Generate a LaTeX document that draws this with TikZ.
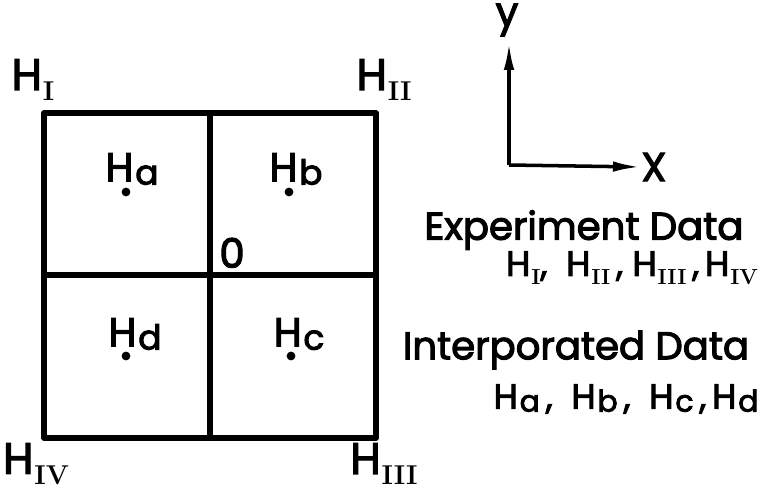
\documentclass[tikz,border=0pt]{standalone}
\usepackage{fontspec}
\usepackage{graphicx}
\newfontfamily\letterfont{Poppins}[FakeBold=2.8]
\usetikzlibrary{arrows.meta}
% H with a roman-numeral index and with a letter index
\newcommand{\Hroman}[1]{H\kern0.5pt\raisebox{-0.45ex}{\scalebox{0.62}{\rmfamily\bfseries #1}}}
\newcommand{\Hletter}[1]{H\kern1pt\raisebox{-0.15ex}{\scalebox{0.85}{#1}}}
\tikzset{
  cellline/.style={line width=3pt, line cap=round, line join=round},
  axisarr/.style={line width=2pt, -{Latex[length=5.6mm,width=2.1mm]}},
  corner/.style={font=\letterfont\fontsize{25}{27}\selectfont, inner sep=0pt},
  cell/.style={font=\letterfont\fontsize{23}{25}\selectfont, inner sep=0pt},
  legend/.style={font=\letterfont\fontsize{22}{24}\selectfont, inner sep=0pt},
  vals/.style={font=\letterfont\fontsize{20}{22}\selectfont, inner sep=0pt},
  gridpt/.style={circle, fill=black, inner sep=0pt, minimum size=5pt},
}
\begin{document}
\begin{tikzpicture}[x=0.02cm, y=-0.02cm]
  \useasboundingbox[fill=white] (0,0) rectangle (767,489);
  % ---------------- the four cells ----------------
  \coordinate (nw) at (44,113);
  \coordinate (se) at (376,438);
  \coordinate (ctr) at (210,275);
  \draw[cellline] (nw) rectangle (se);
  \draw[cellline] (ctr |- nw) -- (ctr |- se);
  \draw[cellline] (ctr -| nw) -- (ctr -| se);
  \node[cell, anchor=south west] (zero) at (219,268) {0};
  % corner values
  \node[corner] (h1) at (33,80) {\Hroman{I}};
  \node[corner] (h2) at (384,80) {\Hroman{II}};
  \node[corner] (h3) at (384,464) {\Hroman{III}};
  \node[corner] (h4) at (36,464) {\Hroman{IV}};
  % interpolated points
  \node[gridpt] (pa) at (126,192) {};
  \node[gridpt] (pb) at (289,192) {};
  \node[gridpt] (pc) at (291,356) {};
  \node[gridpt] (pd) at (126,356) {};
  \node[cell] (ha) at (132,169) {\Hletter{a}};
  \node[cell] (hb) at (296,169) {\Hletter{b}};
  \node[cell] (hc) at (299,334) {\Hletter{c}};
  \node[cell] (hd) at (135,334) {\Hletter{d}};

  % ---------------- axes ----------------
  \coordinate (orig) at (509,165);
  \node[cell] (ylab) at (507,20) {y};
  \node[cell, anchor=west] (xlab) at (641,167) {X};
  \draw[axisarr] (orig) -- (509,42);
  \draw[axisarr] (orig) -- (xlab.west);

  % ---------------- legend ----------------
  \node[legend] (exp) at (584,230) {Experiment Data};
  \node[vals] (expv) at (632,268) {\Hroman{I},\ \ \Hroman{II}\,,\ \Hroman{III}\,,\,\Hroman{IV}};
  \node[legend] (itp) at (576,350) {Interporated Data};
  \node[vals] (itpv) at (626,399) {\Hletter{a}\,,\ \ \Hletter{b}\,,\ \ \Hletter{c}\,,\,\Hletter{d}};
\end{tikzpicture}
\end{document}
